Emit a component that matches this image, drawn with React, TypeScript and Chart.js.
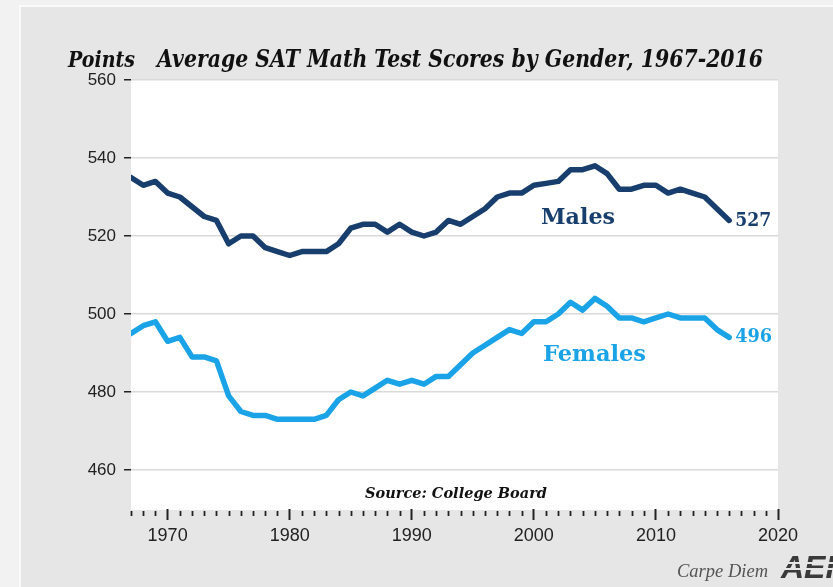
import React, { useEffect, useRef } from "react";
import { Chart, registerables } from "chart.js";

Chart.register(...registerables);

const years = [
  1967, 1968, 1969, 1970, 1971, 1972, 1973, 1974, 1975, 1976,
  1977, 1978, 1979, 1980, 1981, 1982, 1983, 1984, 1985, 1986,
  1987, 1988, 1989, 1990, 1991, 1992, 1993, 1994, 1995, 1996,
  1997, 1998, 1999, 2000, 2001, 2002, 2003, 2004, 2005, 2006,
  2007, 2008, 2009, 2010, 2011, 2012, 2013, 2014, 2015, 2016,
];

const males = [
  535, 533, 534, 531, 530, 527.5, 525, 524, 518, 520,
  520, 517, 516, 515, 516, 516, 516, 518, 522, 523,
  523, 521, 523, 521, 520, 521, 524, 523, 525, 527,
  530, 531, 531, 533, 533.5, 534, 537, 537, 538, 536,
  532, 532, 533, 533, 531, 532, 531, 530, 527, 524,
];

const females = [
  495, 497, 498, 493, 494, 489, 489, 488, 479, 475,
  474, 474, 473, 473, 473, 473, 474, 478, 480, 479,
  481, 483, 482, 483, 482, 484, 484, 487, 490, 492,
  494, 496, 495, 498, 498, 500, 503, 501, 504, 502,
  499, 499, 498, 499, 500, 499, 499, 499, 496, 494,
];

const yTicks = [460, 480, 500, 520, 540, 560];
const decadeTicks = [1970, 1980, 1990, 2000, 2010, 2020];
const seriesNames = ["Males", "Females"];
const endLabels = ["527", "496"];

const titleText = "Average SAT Math Test Scores by Gender, 1967-2016";
const unitText = "Points";
const sourceText = "Source: College Board";

const MALE_COLOR = "#173e6d";
const FEMALE_COLOR = "#1aa3e6";
const SERIF = "'DejaVu Serif', 'Liberation Serif', serif";
const SANS = "'Liberation Sans', Arial, sans-serif";

function fitText(
  ctx: CanvasRenderingContext2D,
  text: string,
  x: number,
  y: number,
  width: number,
  font: string,
  color: string
) {
  ctx.save();
  ctx.font = font;
  ctx.fillStyle = color;
  ctx.textBaseline = "alphabetic";
  ctx.textAlign = "left";
  const w = ctx.measureText(text).width;
  const sx = width / w;
  ctx.translate(x, y);
  ctx.scale(sx, 1);
  ctx.fillText(text, 0, 0);
  ctx.restore();
}

const backgroundPlugin = {
  id: "bgPanel",
  beforeDraw(chart: any) {
    const { ctx, chartArea } = chart;
    ctx.save();
    ctx.fillStyle = "#f2f2f2";
    ctx.fillRect(0, 0, chart.width, chart.height);
    ctx.fillStyle = "#fafafa";
    ctx.fillRect(19, 5, chart.width - 19, chart.height - 5);
    ctx.fillStyle = "#e6e6e6";
    ctx.fillRect(21, 7, chart.width - 21, chart.height - 7);
    ctx.fillStyle = "#ffffff";
    ctx.fillRect(
      chartArea.left,
      chartArea.top,
      chartArea.right - chartArea.left,
      chartArea.bottom - chartArea.top + 1
    );
    ctx.restore();
  },
};

const annotPlugin = {
  id: "annot",
  afterDraw(chart: any) {
    const { ctx } = chart;
    const xs = chart.scales.x;
    const ys = chart.scales.y;
    // minor year ticks
    ctx.save();
    ctx.strokeStyle = "#222";
    ctx.lineWidth = 1.8;
    const top = chart.chartArea.bottom + 2;
    for (let yr = xs.min; yr <= xs.max; yr++) {
      if (yr % 10 === 0) continue;
      const px = Math.round(xs.getPixelForValue(yr)) + 0.5;
      ctx.beginPath();
      ctx.moveTo(px, top);
      ctx.lineTo(px, top + 5);
      ctx.stroke();
    }
    ctx.restore();

    // titles
    fitText(ctx, unitText, 68, 67, 67, `italic bold 23px ${SERIF}`, "#111");
    fitText(ctx, titleText, 157, 67, 606, `italic bold 24px ${SERIF}`, "#111");

    // series labels
    fitText(ctx, seriesNames[0], 541, 224, 74, `bold 22px ${SERIF}`, MALE_COLOR);
    fitText(ctx, seriesNames[1], 543, 361, 103, `bold 22px ${SERIF}`, FEMALE_COLOR);

    // end labels
    const lastX = xs.getPixelForValue(years[years.length - 1]);
    const mY = ys.getPixelForValue(males[males.length - 1]);
    const fY = ys.getPixelForValue(females[females.length - 1]);
    fitText(ctx, endLabels[0], lastX + 6, mY + 6, 36, `bold 18px ${SERIF}`, MALE_COLOR);
    fitText(ctx, endLabels[1], lastX + 6, fY + 5, 37, `bold 18px ${SERIF}`, FEMALE_COLOR);

    // source
    fitText(ctx, sourceText, 365, 498, 182, `italic bold 15px ${SERIF}`, "#111");

    // footer
    fitText(ctx, "Carpe Diem", 677, 577, 91, `italic 18px 'Liberation Serif', serif`, "#555");
    ctx.save();
    ctx.font = `italic bold 32px ${SANS}`;
    ctx.fillStyle = "#3a3a3a";
    ctx.fillText("AEI", 781, 578);
    ctx.strokeStyle = "#e6e6e6";
    ctx.lineWidth = 2;
    [563, 569].forEach((yy) => {
      ctx.beginPath();
      ctx.moveTo(780, yy);
      ctx.lineTo(833, yy);
      ctx.stroke();
    });
    ctx.restore();
  },
};

export default function App() {
  const ref = useRef<HTMLCanvasElement | null>(null);

  useEffect(() => {
    if (!ref.current) return;
    const chart = new Chart(ref.current, {
      type: "line",
      data: {
        datasets: [
          {
            label: seriesNames[0],
            data: years.map((yr, i) => ({ x: yr, y: males[i] })),
            borderColor: MALE_COLOR,
            borderWidth: 5.5,
            pointRadius: 0,
            tension: 0,
            borderJoinStyle: "round",
            borderCapStyle: "round",
          },
          {
            label: seriesNames[1],
            data: years.map((yr, i) => ({ x: yr, y: females[i] })),
            borderColor: FEMALE_COLOR,
            borderWidth: 5.5,
            pointRadius: 0,
            tension: 0,
            borderJoinStyle: "round",
            borderCapStyle: "round",
          },
        ],
      },
      options: {
        animation: false,
        responsive: false,
        maintainAspectRatio: false,
        layout: { padding: { top: 80, right: 55, left: 0, bottom: 0 } },
        plugins: {
          legend: { display: false },
          tooltip: { enabled: false },
          title: { display: false },
        },
        scales: {
          x: {
            type: "linear",
            min: 1967,
            max: 2020,
            afterBuildTicks: (scale: any) => {
              const t: any[] = [];
              for (let yr = 1967; yr <= 2020; yr++) t.push({ value: yr });
              scale.ticks = t;
            },
            afterFit: (scale: any) => {
              scale.height = 78;
            },
            border: { display: false },
            grid: {
              drawOnChartArea: false,
              drawTicks: true,
              tickLength: 11,
              tickWidth: 2,
              tickColor: (c: any) =>
                c.tick && decadeTicks.includes(c.tick.value) ? "#222" : "rgba(0,0,0,0)",
            },
            ticks: {
              autoSkip: false,
              maxRotation: 0,
              padding: 5,
              color: "#222",
              font: { family: SANS, size: 18 },
              callback: (v: any) => (decadeTicks.includes(v) ? String(v) : ""),
            },
          },
          y: {
            min: 450,
            max: 560,
            afterBuildTicks: (scale: any) => {
              scale.ticks = yTicks.map((v) => ({ value: v }));
            },
            afterFit: (scale: any) => {
              scale.width = 131;
            },
            border: { display: false },
            grid: {
              color: "#d9d9d9",
              lineWidth: 1.5,
              drawTicks: true,
              tickLength: 7,
              tickColor: "#222",
              tickWidth: 1.5,
            },
            ticks: {
              padding: 8,
              color: "#222",
              font: { family: SANS, size: 17 },
            },
          },
        },
      },
      plugins: [backgroundPlugin, annotPlugin],
    } as any);
    return () => chart.destroy();
  }, []);

  return (
    <div style={{ position: "fixed", left: 0, top: 0, width: 833, height: 587 }}>
      <canvas ref={ref} width={833} height={587} style={{ width: 833, height: 587, display: "block" }} />
    </div>
  );
}
